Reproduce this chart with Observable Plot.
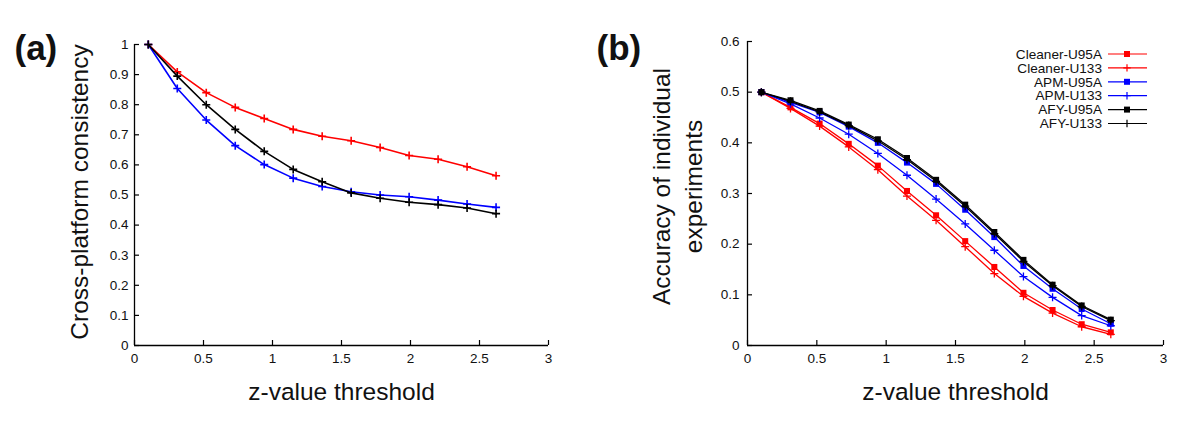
<!DOCTYPE html>
<html><head><meta charset="utf-8">
<script src="https://cdn.jsdelivr.net/npm/d3@7"></script>
<script src="https://cdn.jsdelivr.net/npm/@observablehq/plot@0.6"></script>
<style>
body{margin:0;background:#fff;}
#wrap{position:relative;width:1200px;height:429px;overflow:hidden;}
#wrap > svg{position:absolute;top:0;}
</style></head>
<body><div id="wrap"></div>
<script>
// ---- data ----
const zValues = [0.1, 0.31, 0.52, 0.73, 0.94, 1.15, 1.36, 1.57, 1.78, 1.99, 2.2, 2.41, 2.62];
const xTicks = [0, 0.5, 1, 1.5, 2, 2.5, 3];
const yTicksA = [0, 0.1, 0.2, 0.3, 0.4, 0.5, 0.6, 0.7, 0.8, 0.9, 1];
const yTicksB = [0, 0.1, 0.2, 0.3, 0.4, 0.5, 0.6];

// panel (a): cross-platform consistency
const consistencyCleaner = [1.0, 0.909, 0.840, 0.791, 0.754, 0.718, 0.695, 0.680, 0.658, 0.631, 0.619, 0.594, 0.564];
const consistencyAPM     = [1.0, 0.854, 0.749, 0.664, 0.601, 0.556, 0.528, 0.511, 0.500, 0.494, 0.483, 0.470, 0.459];
const consistencyAFY     = [1.0, 0.895, 0.800, 0.718, 0.645, 0.585, 0.544, 0.507, 0.489, 0.476, 0.468, 0.457, 0.438];

// panel (b): accuracy of individual experiments
const accCleanerU95A = [0.5, 0.470, 0.438, 0.398, 0.355, 0.305, 0.257, 0.206, 0.155, 0.104, 0.070, 0.042, 0.026];
const accCleanerU133 = [0.5, 0.468, 0.433, 0.392, 0.347, 0.295, 0.247, 0.195, 0.142, 0.097, 0.064, 0.037, 0.022];
const accAPMU95A     = [0.5, 0.480, 0.460, 0.432, 0.400, 0.361, 0.319, 0.268, 0.214, 0.157, 0.112, 0.072, 0.043];
const accAPMU133     = [0.5, 0.477, 0.449, 0.417, 0.379, 0.336, 0.289, 0.240, 0.188, 0.136, 0.095, 0.059, 0.039];
const accAFYU95A     = [0.5, 0.484, 0.463, 0.436, 0.407, 0.370, 0.327, 0.278, 0.224, 0.169, 0.120, 0.079, 0.051];
const accAFYU133     = [0.5, 0.482, 0.461, 0.434, 0.404, 0.367, 0.324, 0.275, 0.221, 0.166, 0.118, 0.077, 0.049];

const seriesNamesB = ["Cleaner-U95A", "Cleaner-U133", "APM-U95A", "APM-U133", "AFY-U95A", "AFY-U133"];

// ---- styling ----
const RED = "#ff0000", BLUE = "#0000ff", BLACK = "#000000";
const FONT = "'Liberation Sans', Arial, Helvetica, sans-serif";
const fmt = d => String(d);

const seriesA = [
  {name: "Cleaner", color: RED, values: consistencyCleaner},
  {name: "APM", color: BLUE, values: consistencyAPM},
  {name: "AFY", color: BLACK, values: consistencyAFY}
];
const seriesB = [
  {name: seriesNamesB[0], color: RED, sym: "square", values: accCleanerU95A},
  {name: seriesNamesB[1], color: RED, sym: "plus", values: accCleanerU133},
  {name: seriesNamesB[2], color: BLUE, sym: "square", values: accAPMU95A},
  {name: seriesNamesB[3], color: BLUE, sym: "plus", values: accAPMU133},
  {name: seriesNamesB[4], color: BLACK, sym: "square", values: accAFYU95A},
  {name: seriesNamesB[5], color: BLACK, sym: "plus", values: accAFYU133}
];
const rows = s => s.values.map((v, i) => ({x: zValues[i], y: v}));

function frameMarks(W, H, m, yTicks) {
  const plotW = W - m.left - m.right, plotH = H - m.top - m.bottom;
  return [
    Plot.ruleX([0], {stroke: "#000", strokeWidth: 1.3}),
    Plot.ruleY([0], {stroke: "#000", strokeWidth: 1.3}),
    Plot.tickX(xTicks, {x: d => d, insetTop: plotH - 5, stroke: "#000", strokeWidth: 1.2}),
    Plot.tickY(yTicks, {y: d => d, insetRight: plotW - 5, stroke: "#000", strokeWidth: 1.2})
  ];
}

// enlarge the axis tick labels (Plot's default is small)
function sizeTickLabels(svg) {
  d3.select(svg).selectAll("g").each(function() {
    const lab = this.getAttribute("aria-label") || "";
    if (lab.startsWith("x-axis") || lab.startsWith("y-axis")) {
      d3.select(this).attr("font-size", 13.5).style("font-size", "13.5px", "important");
      d3.select(this).selectAll("text").attr("font-size", 13.5).style("font-size", "13.5px", "important");
    }
  });
}

// ---- panel (a) ----
{
  const W = 600, H = 429, m = {left: 134, right: 52, top: 44, bottom: 84};
  const marks = [...frameMarks(W, H, m, yTicksA)];
  for (const s of seriesA) {
    marks.push(Plot.line(rows(s), {x: "x", y: "y", stroke: s.color, strokeWidth: 1.6}));
    marks.push(Plot.dot(rows(s), {x: "x", y: "y", symbol: "plus", r: 2.7, stroke: s.color, strokeWidth: 1.6}));
  }
  marks.push(Plot.text(["Cross-platform consistency"], {text: d => d, frameAnchor: "left", dx: -54, dy: -3, rotate: -90, fontSize: 24.5, textAnchor: "middle", lineAnchor: "middle", fill: "#111"}));
  marks.push(Plot.text(["z-value threshold"], {text: d => d, frameAnchor: "bottom", dy: 47, fontSize: 24.5, textAnchor: "middle", lineAnchor: "middle", fill: "#111"}));
  marks.push(Plot.text(["(a)"], {text: d => d, frameAnchor: "top-left", dx: 14 - m.left, dy: 48 - m.top, fontSize: 35, fontWeight: "bold", textAnchor: "start", lineAnchor: "middle", fill: "#111"}));
  const svg = Plot.plot({
    width: W, height: H,
    marginLeft: m.left, marginRight: m.right, marginTop: m.top, marginBottom: m.bottom,
    style: {fontFamily: FONT, fontSize: "13.5px", background: "transparent", color: "#111", overflow: "visible"},
    x: {domain: [0, 3], ticks: xTicks, tickFormat: fmt, tickSize: 0, tickPadding: 8, label: null},
    y: {domain: [0, 1], ticks: yTicksA, tickFormat: fmt, tickSize: 0, tickPadding: 6, label: null},
    marks
  });
  sizeTickLabels(svg);
  svg.style.left = "0px";
  document.getElementById("wrap").appendChild(svg);
}

// ---- panel (b) ----
{
  const W = 600, H = 429, m = {left: 147, right: 37, top: 41, bottom: 84};
  const marks = [...frameMarks(W, H, m, yTicksB)];
  for (const s of seriesB) {
    marks.push(Plot.line(rows(s), {x: "x", y: "y", stroke: s.color, strokeWidth: 1.3}));
    if (s.sym === "square")
      marks.push(Plot.dot(rows(s), {x: "x", y: "y", symbol: "square", r: 3.4, fill: s.color, stroke: "none"}));
    else
      marks.push(Plot.dot(rows(s), {x: "x", y: "y", symbol: "plus", r: 2.7, stroke: s.color, strokeWidth: 1.3}));
  }
  marks.push(Plot.text(["Accuracy of individual\nexperiments"], {text: d => d, frameAnchor: "left", dx: -72, dy: -7, rotate: -90, fontSize: 24.5, lineHeight: 1.3, textAnchor: "middle", lineAnchor: "middle", fill: "#111"}));
  marks.push(Plot.text(["z-value threshold"], {text: d => d, frameAnchor: "bottom", dy: 47, fontSize: 24.5, textAnchor: "middle", lineAnchor: "middle", fill: "#111"}));
  marks.push(Plot.text(["(b)"], {text: d => d, frameAnchor: "top-left", dx: 596 - 600 - m.left, dy: 48 - m.top, fontSize: 35, fontWeight: "bold", textAnchor: "start", lineAnchor: "middle", fill: "#111"}));
  const svg = Plot.plot({
    width: W, height: H,
    marginLeft: m.left, marginRight: m.right, marginTop: m.top, marginBottom: m.bottom,
    style: {fontFamily: FONT, fontSize: "13.5px", background: "transparent", color: "#111", overflow: "visible"},
    x: {domain: [0, 3], ticks: xTicks, tickFormat: fmt, tickSize: 0, tickPadding: 8, label: null},
    y: {domain: [0, 0.6], ticks: yTicksB, tickFormat: fmt, tickSize: 0, tickPadding: 8, label: null},
    marks
  });
  sizeTickLabels(svg);
  svg.style.left = "600px";
  document.getElementById("wrap").appendChild(svg);

  // legend
  const g = d3.select(svg).append("g").attr("font-family", FONT).attr("font-size", 13.6);
  seriesB.forEach((s, i) => {
    const y = 54 + i * 13.9;
    g.append("text").attr("x", 502).attr("y", y).attr("dy", "0.35em").attr("text-anchor", "end").attr("fill", "#111").text(s.name);
    g.append("line").attr("x1", 508).attr("x2", 547).attr("y1", y).attr("y2", y).attr("stroke", s.color).attr("stroke-width", 1.2);
    if (s.sym === "square")
      g.append("path").attr("d", d3.symbol(d3.symbolSquare, 36)()).attr("transform", `translate(527,${y})`).attr("fill", s.color);
    else
      g.append("path").attr("d", d3.symbol(d3.symbolPlus, 20)()).attr("transform", `translate(527,${y})`).attr("fill", "none").attr("stroke", s.color).attr("stroke-width", 1.2);
  });
}
</script>
</body></html>
